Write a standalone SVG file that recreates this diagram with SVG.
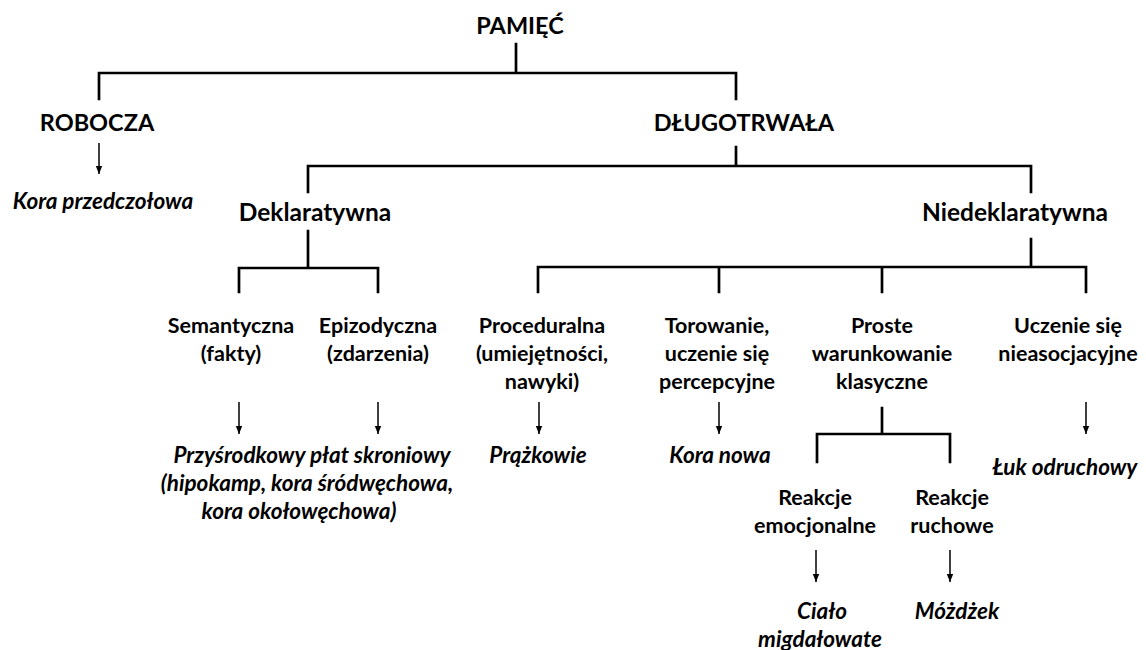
<svg xmlns="http://www.w3.org/2000/svg" width="1146" height="650" viewBox="0 0 1146 650">
<style>
text{font-family:Lato,"Open Sans","Liberation Sans",sans-serif;font-weight:bold;fill:#000;text-anchor:middle}
.big{font-size:23.5px}
.mid{font-size:24.5px}
.sm{font-size:21.5px}
.it{font-size:22.5px;font-style:italic}
.ln{stroke:#000;stroke-width:2.7;fill:none;stroke-linecap:square}
.ar{stroke:#000;stroke-width:1.5;fill:none}
</style>
<defs>
<marker id="ah2" markerUnits="userSpaceOnUse" markerWidth="8" markerHeight="10" refX="8" refY="4" orient="auto" viewBox="0 0 8 10">
<path d="M0,0.8 L8,4 L0,7.2 Z" fill="#000"/>
</marker>
</defs>
<g id="connectors">
<path class="ln" d="M516,44 V73 M99,99 V73 H736 V99"/>
<path class="ln" d="M736,147 V166 M308,192 V166 H1031 V192"/>
<path class="ln" d="M308,231 V268 M239,292 V268 H378 V292"/>
<path class="ln" d="M1031,239 V267 M538,292 V267 H1086 V292 M719,267 V292 M882,267 V292"/>
<path class="ln" d="M882,408 V434 M817,462 V434 H950 V462"/>
<line class="ar" x1="99" y1="143" x2="99" y2="174" marker-end="url(#ah2)"/>
<line class="ar" x1="239" y1="402" x2="239" y2="434" marker-end="url(#ah2)"/>
<line class="ar" x1="378" y1="402" x2="378" y2="434" marker-end="url(#ah2)"/>
<line class="ar" x1="539" y1="402" x2="539" y2="434" marker-end="url(#ah2)"/>
<line class="ar" x1="719" y1="402" x2="719" y2="434" marker-end="url(#ah2)"/>
<line class="ar" x1="1086" y1="402" x2="1086" y2="434" marker-end="url(#ah2)"/>
<line class="ar" x1="816" y1="550" x2="816" y2="582" marker-end="url(#ah2)"/>
<line class="ar" x1="950" y1="550" x2="950" y2="582" marker-end="url(#ah2)"/>
</g>
<g id="pamiec"><text class="big" x="520" y="34">PAMIĘĆ</text></g>
<g id="robocza"><text class="big" x="97" y="131">ROBOCZA</text></g>
<g id="kora-przedczolowa"><text class="it" x="103" y="209">Kora przedczołowa</text></g>
<g id="dlugotrwala"><text class="big" x="744" y="131">DŁUGOTRWAŁA</text></g>
<g id="deklaratywna"><text class="mid" x="315" y="221">Deklaratywna</text></g>
<g id="niedeklaratywna"><text class="mid" x="1015" y="221">Niedeklaratywna</text></g>
<g id="semantyczna"><text class="sm" x="231" y="333">Semantyczna</text><text class="sm" x="231" y="361">(fakty)</text></g>
<g id="epizodyczna"><text class="sm" x="378" y="333">Epizodyczna</text><text class="sm" x="378" y="361">(zdarzenia)</text></g>
<g id="proceduralna"><text class="sm" x="542" y="333">Proceduralna</text><text class="sm" x="542" y="361">(umiejętności,</text><text class="sm" x="542" y="389">nawyki)</text></g>
<g id="torowanie"><text class="sm" x="717" y="333">Torowanie,</text><text class="sm" x="717" y="361">uczenie się</text><text class="sm" x="717" y="389">percepcyjne</text></g>
<g id="proste"><text class="sm" x="882" y="333">Proste</text><text class="sm" x="882" y="361">warunkowanie</text><text class="sm" x="882" y="389">klasyczne</text></g>
<g id="uczenie"><text class="sm" x="1068" y="333">Uczenie się</text><text class="sm" x="1068" y="361">nieasocjacyjne</text></g>
<g id="przysrodkowy"><text class="it" x="312" y="463">Przyśrodkowy płat skroniowy</text><text class="it" x="307" y="491">(hipokamp, kora śródwęchowa,</text><text class="it" x="299" y="519">kora okołowęchowa)</text></g>
<g id="prazkowie"><text class="it" x="538" y="463">Prążkowie</text></g>
<g id="kora-nowa"><text class="it" x="720" y="463">Kora nowa</text></g>
<g id="luk"><text class="it" x="1065" y="475">Łuk odruchowy</text></g>
<g id="reakcje-emocjonalne"><text class="sm" x="815" y="505">Reakcje</text><text class="sm" x="815" y="533">emocjonalne</text></g>
<g id="reakcje-ruchowe"><text class="sm" x="952" y="505">Reakcje</text><text class="sm" x="952" y="533">ruchowe</text></g>
<g id="cialo"><text class="it" x="822" y="619">Ciało</text><text class="it" x="820" y="647">migdałowate</text></g>
<g id="mozdzek"><text class="it" x="957" y="619">Móżdżek</text></g>
</svg>
